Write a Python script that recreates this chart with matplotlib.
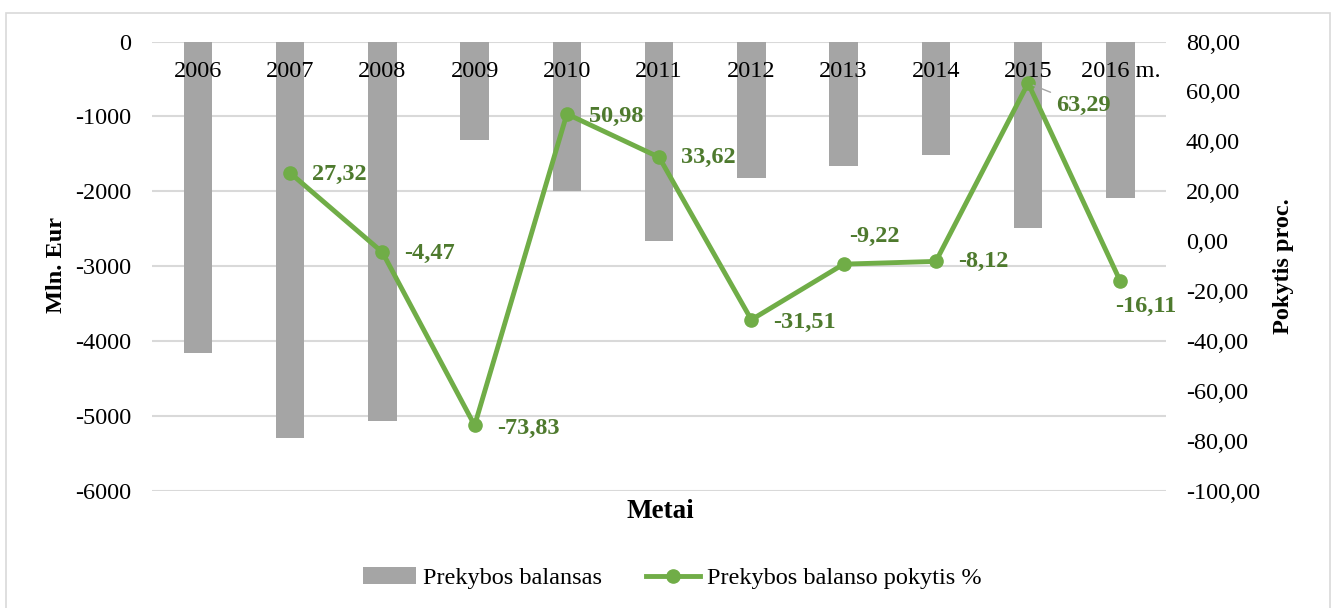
import matplotlib
matplotlib.use("Agg")
import matplotlib.pyplot as plt
from matplotlib.patches import Rectangle
from matplotlib.lines import Line2D
from matplotlib.patches import Patch
import numpy as np

years = ["2006", "2007", "2008", "2009", "2010", "2011", "2012", "2013", "2014", "2015", "2016 m."]
balance = [-4160, -5297, -5064, -1321, -1999, -2667, -1829, -1660, -1521, -2493, -2088]
change_years = years[1:]
change_pct = [27.32, -4.47, -73.83, 50.98, 33.62, -31.51, -9.22, -8.12, 63.29, -16.11]
left_ticks = [0, -1000, -2000, -3000, -4000, -5000, -6000]
right_ticks = [80, 60, 40, 20, 0, -20, -40, -60, -80, -100]

plt.rcParams['font.family'] = ['Liberation Serif', 'DejaVu Serif']

fig = plt.figure(figsize=(13.36, 6.08), dpi=100)
ax = fig.add_axes([0.1136, 0.193, 0.7595, 0.7387])
ax2 = ax.twinx()

x = np.arange(len(years))
ax.bar(x, balance, width=0.31, color='#A5A5A5', zorder=2)
ax.set_xlim(-0.5, len(years) - 0.5)
ax.set_ylim(-6000, 0)
ax.set_yticks(left_ticks)
ax.set_yticklabels([str(t) for t in left_ticks], fontsize=17.5)
ax.grid(axis='y', color='#D9D9D9', lw=1.5, zorder=0)
ax.set_axisbelow(True)
ax.tick_params(axis='y', length=0, pad=15)
ax.set_xticks([])
for s in ax.spines.values():
    s.set_visible(False)
for s in ax2.spines.values():
    s.set_visible(False)

for xi, lab in zip(x, years):
    ax.text(xi, -400, lab, ha='center', va='center', fontsize=17.5, zorder=3)

xc = x[1:]
ax2.plot(xc, change_pct, color='#70AD47', lw=3.5, marker='o', ms=9.5, zorder=4)
ax2.set_ylim(-100, 80)
ax2.set_yticks(right_ticks)
ax2.set_yticklabels([f"{t:.2f}".replace('.', ',') for t in right_ticks], fontsize=17.5)
ax2.tick_params(axis='y', length=0, pad=14)
for lab in ax2.get_yticklabels():
    lab.set_ha('left')

offsets = [(16, -1, 'left', 'center'), (16, -1, 'left', 'center'), (16, -2, 'left', 'center'),
           (16, -2, 'left', 'center'), (16, 0, 'left', 'center'), (16, -2, 'left', 'center'),
           (22, 20, 'center', 'center'), (16, 0, 'left', 'center'), (20, -16, 'left', 'center'),
           (18, -18, 'center', 'center')]
for xi, v, (dx, dy, ha, va) in zip(xc, change_pct, offsets):
    txt = f"{v:.2f}".replace('.', ',')
    if v > 60:
        ax2.annotate(txt, (xi, v), xytext=(dx, dy), textcoords='offset points',
                     ha=ha, va=va, fontsize=17.5, fontweight='bold', color='#4E7A2E', zorder=5,
                     arrowprops=dict(arrowstyle='-', color='#A5A5A5', lw=1, shrinkA=2, shrinkB=4))
    else:
        ax2.annotate(txt, (xi, v), xytext=(dx, dy), textcoords='offset points',
                     ha=ha, va=va, fontsize=17.5, fontweight='bold', color='#4E7A2E', zorder=5)

fig.text(56 / 1336, 1 - 265 / 608, "Mln. Eur", rotation=90, ha='center', va='center',
         fontsize=17.5, fontweight='bold')
fig.text(1284 / 1336, 1 - 266 / 608, "Pokytis proc.", rotation=90, ha='center', va='center',
         fontsize=17.5, fontweight='bold')
fig.text(660 / 1336, 1 - 512 / 608, "Metai", ha='center', va='center',
         fontsize=19.5, fontweight='bold')

handles = [Patch(facecolor='#A5A5A5', edgecolor='none'),
           Line2D([0], [0], color='#70AD47', lw=3.5, marker='o', ms=9.5)]
fig.legend(handles, ["Prekybos balansas", "Prekybos balanso pokytis %"], ncol=2,
           loc='center', bbox_to_anchor=(672 / 1336, 1 - 578 / 608), frameon=False,
           fontsize=17.5, handlelength=2.2, columnspacing=1.8, handletextpad=0.3)

fig.patches.append(Rectangle((6 / 1336, -0.01), 1324 / 1336, 1 - 13 / 608 + 0.01,
                             transform=fig.transFigure, fill=False, edgecolor='#D9D9D9', lw=1.2))

fig.savefig("out.png", dpi=100, facecolor='white')
